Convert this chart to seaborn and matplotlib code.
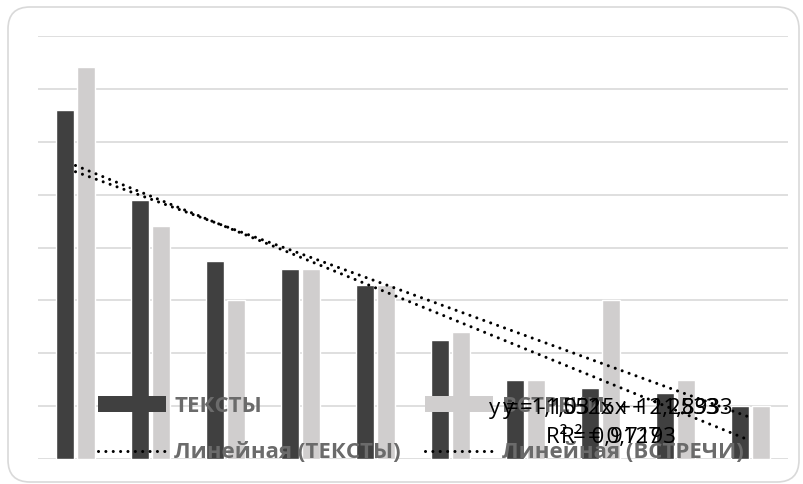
import numpy as np
import pandas as pd
import matplotlib
matplotlib.use("Agg")
import matplotlib.pyplot as plt
import matplotlib.patches as mpatches
from matplotlib.lines import Line2D
import seaborn as sns

# Data
categories = ["1", "2", "3", "4", "5", "6", "7", "8", "9", "10"]
texts = [13.2, 9.8, 7.5, 7.2, 6.6, 4.5, 3.0, 2.7, 2.5, 2.0]      # ТЕКСТЫ
meetings = [14.8, 8.8, 6.0, 7.2, 6.6, 4.8, 3.0, 6.0, 3.0, 2.0]   # ВСТРЕЧИ
series_names = ["ТЕКСТЫ", "ВСТРЕЧИ"]
y_ticks = [0, 2, 4, 6, 8, 10, 12, 14, 16]

DARK = "#404040"
LIGHT = "#d0cece"
GRID = "#d9d9d9"
LEGEND_TXT = "#6b6b6b"

sns.set_theme(style="white")
plt.rcParams["font.family"] = ["Open Sans", "DejaVu Sans"]

df = pd.DataFrame({
    "cat": categories * 2,
    "series": [series_names[0]] * len(categories) + [series_names[1]] * len(categories),
    "value": texts + meetings,
})

fig = plt.figure(figsize=(8.04, 4.84), dpi=100)
ax = fig.add_axes([38 / 804, 24.7 / 484, 750 / 804, 423.6 / 484])

sns.barplot(data=df, x="cat", y="value", hue="series", order=categories,
            hue_order=series_names, palette=[DARK, LIGHT], width=0.56, gap=0.19,
            saturation=1, legend=False, ax=ax, zorder=2)

ax.set_ylim(0, 16)
ax.set_xlim(-0.5, len(categories) - 0.5)
ax.set_yticks(y_ticks)
ax.grid(axis="y", color=GRID, lw=1.2, zorder=0)
ax.set_axisbelow(True)
ax.tick_params(left=False, bottom=False, labelleft=False, labelbottom=False)
ax.set_xlabel("")
ax.set_ylabel("")
for s in ax.spines.values():
    s.set_visible(False)

# Linear trendlines (x = 1..n, as in a spreadsheet trendline)
dotted = dict(color="black", lw=2.2, linestyle=(0, (0.01, 2.4)),
              dash_capstyle="round", solid_capstyle="round")
xn = np.arange(1, len(categories) + 1)


def fmt(v):
    s = f"{abs(v):.4f}".rstrip("0").rstrip(".")
    return s.replace(".", ",")


labels = []
for vals in (texts, meetings):
    k, b = np.polyfit(xn, vals, 1)
    pred = k * xn + b
    ss_res = np.sum((np.array(vals) - pred) ** 2)
    ss_tot = np.sum((np.array(vals) - np.mean(vals)) ** 2)
    r2 = 1 - ss_res / ss_tot
    ax.plot(xn - 1, pred, zorder=4, **dotted)
    sign = "-" if k < 0 else ""
    labels.append(f"y = {sign}{fmt(k)}x + {fmt(b)}\nR² = {fmt(r2)}")

# Trendline equations, drawn overlapping as in the source chart
for lab, xc in zip(labels, (604, 618)):
    fig.text(xc / 804, 1 - 423 / 484, lab, ha="center", va="center",
             fontsize=16, color="black", linespacing=1.4, zorder=6)

# Legend
handles = [
    mpatches.Patch(facecolor=DARK, edgecolor="none", label="ТЕКСТЫ"),
    Line2D([0], [0], label="Линейная (ТЕКСТЫ)", **dotted),
    mpatches.Patch(facecolor=LIGHT, edgecolor="none", label="ВСТРЕЧИ"),
    Line2D([0], [0], label="Линейная (ВСТРЕЧИ)", **dotted),
]
leg = ax.legend(handles=handles, ncol=2, loc="center left",
                bbox_to_anchor=(98 / 804, 1 - 429.5 / 484), bbox_transform=fig.transFigure,
                frameon=False, handlelength=3.06, handleheight=0.68,
                handletextpad=0.38, columnspacing=1.08, labelspacing=1.15,
                borderpad=0, borderaxespad=0,
                prop={"family": ["Open Sans", "DejaVu Sans"], "weight": "bold", "size": 16})
for t in leg.get_texts():
    t.set_color(LEGEND_TXT)
leg.set_zorder(5)

# Chart border with rounded corners
border = mpatches.FancyBboxPatch((8, 2), 791, 475,
                                 boxstyle="round,pad=0,rounding_size=22",
                                 transform=None, facecolor="none",
                                 edgecolor=GRID, lw=1.2)
fig.add_artist(border)

fig.savefig("out.png", dpi=100)
